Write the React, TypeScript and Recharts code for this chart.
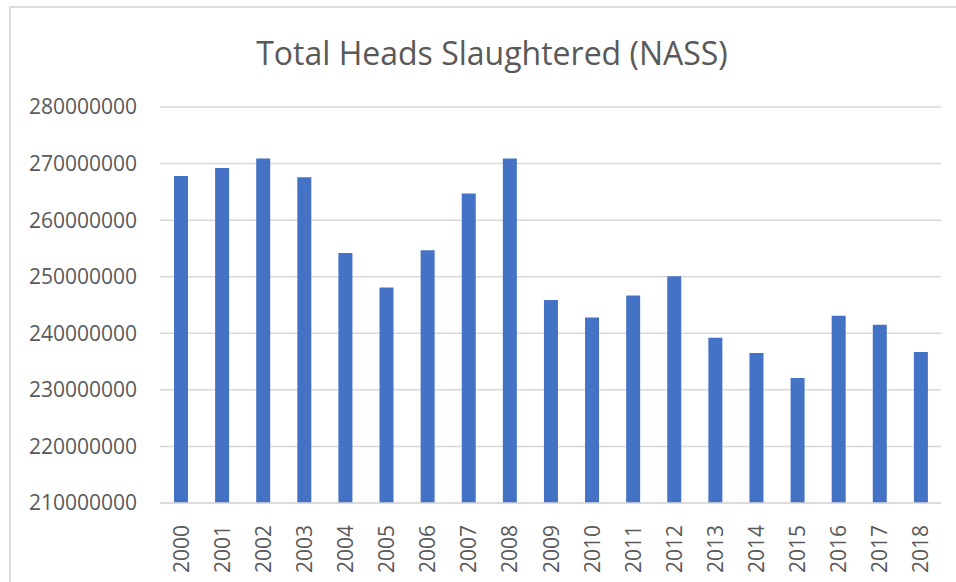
import { BarChart, Bar, XAxis, YAxis, CartesianGrid } from "recharts";

const years = [
  "2000", "2001", "2002", "2003", "2004", "2005", "2006", "2007", "2008", "2009",
  "2010", "2011", "2012", "2013", "2014", "2015", "2016", "2017", "2018",
];

const heads = [
  267800000, 269200000, 270900000, 267600000, 254200000, 248100000, 254700000,
  264700000, 270900000, 245900000, 242800000, 246700000, 250100000, 239200000,
  236500000, 232100000, 243100000, 241500000, 236700000,
];

const yTicks = [
  210000000, 220000000, 230000000, 240000000, 250000000, 260000000, 270000000,
  280000000,
];

const data = years.map((year, i) => ({ year, heads: heads[i] }));

const FONT = "'Open Sans', 'Liberation Sans', sans-serif";
const GREY = "#595959";

// rotated year labels, read bottom to top
function YearTick(props: any) {
  const { x, y, payload } = props;
  return (
    <text
      x={0}
      y={0}
      transform={`translate(${x},${y + 14}) rotate(-90)`}
      textAnchor="end"
      dominantBaseline="central"
      fill={GREY}
      fontSize={21}
      fontFamily={FONT}
    >
      {payload.value}
    </text>
  );
}

export default function App() {
  return (
    <div
      style={{
        position: "fixed",
        left: 0,
        top: 0,
        width: 956,
        height: 582,
        background: "#fff",
        overflow: "hidden",
      }}
    >
      <div
        style={{
          position: "absolute",
          left: 9,
          top: 6,
          width: 960,
          height: 590,
          borderTop: "2px solid #dcdcdc",
          borderLeft: "2px solid #dcdcdc",
        }}
      />
      <div
        style={{
          position: "absolute",
          left: 0,
          width: 984,
          top: 32,
          textAlign: "center",
          fontFamily: FONT,
          fontSize: 32,
          color: GREY,
          lineHeight: "42px",
        }}
      >
        Total Heads Slaughtered (NASS)
      </div>
      <div style={{ position: "absolute", left: 0, top: 0 }}>
        <BarChart
          width={956}
          height={582}
          data={data}
          margin={{ top: 107, right: 15, bottom: 0, left: 0 }}
        >
          <CartesianGrid vertical={false} stroke="#d9d9d9" strokeWidth={1.5} />
          <XAxis
            dataKey="year"
            height={79}
            interval={0}
            tick={<YearTick />}
            tickLine={false}
            axisLine={{ stroke: "#d9d9d9", strokeWidth: 1.5 }}
          />
          <YAxis
            width={160}
            domain={[210000000, 280000000]}
            ticks={yTicks}
            allowDataOverflow
            axisLine={false}
            tickLine={false}
            tickSize={0}
            tickMargin={23}
            tick={{ fill: GREY, fontSize: 21, fontFamily: FONT }}
          />
          <Bar dataKey="heads" fill="#4472c4" barSize={14} isAnimationActive={false} />
        </BarChart>
      </div>
    </div>
  );
}
